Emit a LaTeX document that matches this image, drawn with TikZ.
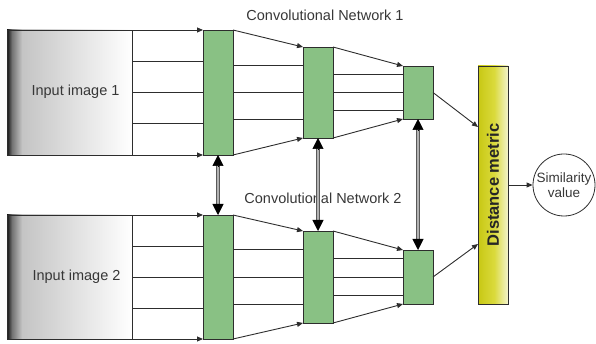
\documentclass[tikz,border=0pt]{standalone}
\usepackage{fontspec}
\setmainfont{Liberation Sans}
\usetikzlibrary{arrows.meta,calc}
\definecolor{blockgreen}{RGB}{137,193,132}
\definecolor{linegray}{RGB}{45,45,45}
\definecolor{txtgray}{RGB}{55,55,55}
\definecolor{yA}{RGB}{200,200,20}
\definecolor{yB}{RGB}{218,218,60}
\definecolor{yC}{RGB}{244,244,205}
\pgfdeclarehorizontalshading{imgshade}{100bp}{color(0bp)=(black); color(25bp)=(black!92); color(27bp)=(black!55); color(31bp)=(black!23); color(75bp)=(white); color(100bp)=(white)}
\pgfdeclarehorizontalshading{distshade}{100bp}{color(0bp)=(yA); color(25bp)=(yA); color(52bp)=(yB); color(75bp)=(yC); color(100bp)=(yC)}
\begin{document}
\begin{tikzpicture}[x=1pt,y=-1pt,
  imgbox/.style={draw=linegray, line width=0.8pt, shading=imgshade, minimum width=125pt, inner sep=0pt, outer sep=0pt},
  blk/.style={draw=linegray, line width=0.8pt, fill=blockgreen, minimum width=30pt, inner sep=0pt, outer sep=0pt},
  distbox/.style={draw=linegray, line width=0.8pt, shading=distshade, minimum width=30pt, minimum height=238pt, inner sep=0pt, outer sep=0pt},
  txt/.style={text=txtgray, font=\fontsize{14.5}{17}\selectfont, inner sep=0pt},
  disttxt/.style={text=black!85, font=\bfseries\fontsize{16.5}{19}\selectfont, inner sep=0pt},
  ln/.style={draw=linegray, line width=0.9pt},
  arr/.style={ln, -{Triangle[length=6pt,width=5pt]}},
  shaft/.style={draw=black!30, line width=2.4pt, shorten <=10pt, shorten >=10pt,
     preaction={draw=black!65, line width=4.4pt, shorten <=10pt, shorten >=10pt}},
  bigtip/.style={draw=black, line width=0.5pt, -{Triangle[length=11pt,width=11pt]}},
  simc/.style={circle, draw=linegray, line width=0.8pt, minimum size=62pt, inner sep=0pt, align=center, text=txtgray, font=\fontsize{13.5}{15.5}\selectfont}
]
\useasboundingbox (0,0) rectangle (596,344);

% input images
\node[imgbox, minimum height=125pt] (img1) at (69.5,92.5) {};
\node[imgbox, minimum height=124pt] (img2) at (69.5,277) {};
\node[txt] (lab1) at (75.5,92) {Input image 1};
\node[txt] (lab2) at (76.5,277) {Input image 2};

% blocks
\node[blk, minimum height=125pt] (b1) at (218,92.5) {};
\node[blk, minimum height=91pt] (b2) at (318,92.5) {};
\node[blk, minimum height=53pt] (b3) at (418,92.5) {};
\node[blk, minimum height=124pt] (b1b) at (218,277) {};
\node[blk, minimum height=92pt] (b2b) at (318,277) {};
\node[blk, minimum height=54pt] (b3b) at (418,277) {};

% distance metric
\node[distbox] (dist) at (493,185) {};
\node[disttxt, rotate=90] (dlab) at (dist.center) {Distance metric};

% similarity
\node[simc] (sim) at (564,185) {Similarity\\value};

% labels
\node[txt, anchor=base] (net1) at (325,21) {Convolutional Network 1};
\node[txt, anchor=base] (net2) at (323,204) {Convolutional Network 2};

% image -> block 1
\foreach \a/\b in {img1/b1, img2/b1b} {
  \draw[arr] (\a.north east) -- (\b.north west);
  \draw[arr] (\a.south east) -- (\b.south west);
  \foreach \f in {0.25,0.5,0.75}
    \draw[ln] ($(\a.north east)!\f!(\a.south east)$) -- ($(\b.north west)!\f!(\b.south west)$);
}

% block 1 -> block 2
\foreach \a/\b/\n in {b1/b2/t, b1b/b2b/u} {
  \draw[arr] (\a.north east) -- (\b.north west);
  \draw[arr] (\a.south east) -- (\b.south west);
  \foreach \f [count=\i] in {0.2,0.5,0.8} {
    \coordinate (\n\i) at ($(\b.north west)!\f!(\b.south west)$);
    \draw[ln] (\a.east |- \n\i) -- (\n\i);
  }
}

% block 2 -> block 3
\foreach \a/\b/\n in {b2/b3/v, b2b/b3b/w} {
  \draw[arr] (\a.north east) -- (\b.north west);
  \draw[arr] (\a.south east) -- (\b.south west);
  \foreach \f [count=\i] in {0.16,0.5,0.84} {
    \coordinate (\n\i) at ($(\b.north west)!\f!(\b.south west)$);
    \draw[ln] (\a.east |- \n\i) -- (\n\i);
  }
}

% block 3 -> distance
\draw[arr] (b3.east) -- ([yshift=58pt]dist.west);
\draw[arr] (b3b.east) -- ([yshift=-59pt]dist.west);
\draw[arr] (dist.east) -- (sim.west);

% vertical double arrows
\foreach \a/\b in {b1/b1b, b2/b2b, b3/b3b} {
  \draw[shaft] (\a.south) -- (\b.north);
  \draw[bigtip] ([yshift=-11pt]\a.south) -- (\a.south);
  \draw[bigtip] ([yshift=11pt]\b.north) -- (\b.north);
}
\end{tikzpicture}
\end{document}
